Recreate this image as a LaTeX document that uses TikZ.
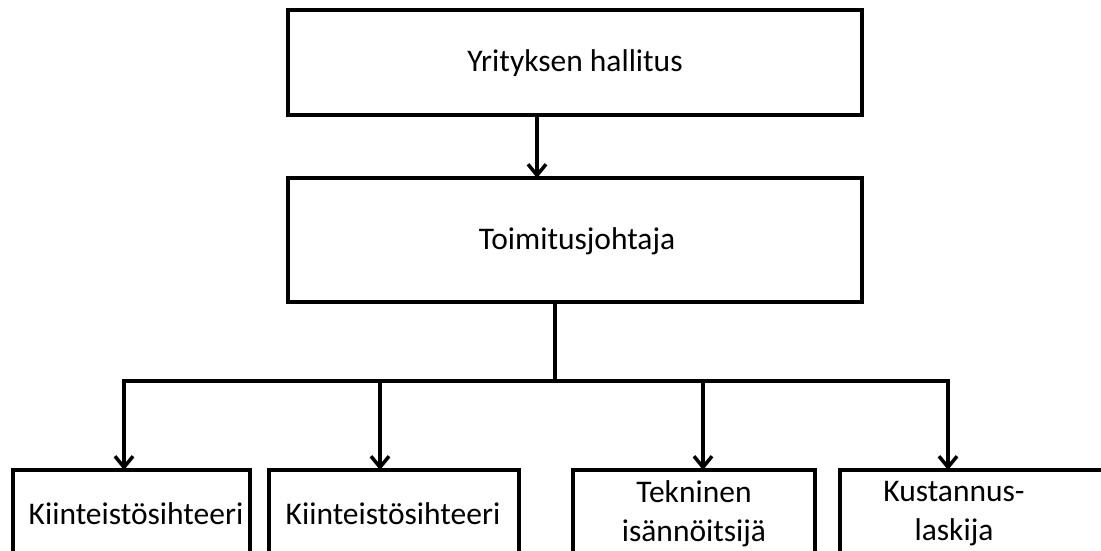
\documentclass[tikz,border=0pt]{standalone}
\usepackage{fontspec}
\setmainfont{Carlito}
\usetikzlibrary{arrows.meta}
\begin{document}
\begin{tikzpicture}[x=1pt,y=-1pt,
  box/.style={draw=black,line width=3.5pt,fill=white,rectangle,inner sep=0pt,outer sep=0pt},
  lbl/.style={font=\fontsize{31.5}{39}\selectfont,align=center,inner sep=0pt},
  ln/.style={line width=3.5pt,black},
  arr/.style={ln,-{Straight Barb[length=11pt,width=18pt,line width=3.5pt]}}]
\useasboundingbox (0,0) rectangle (1101,551);
\clip (0,0) rectangle (1101,551);
\fill[white] (0,0) rectangle (1101,551);
% boxes
\node[box,minimum width=574pt,minimum height=105pt] (top) at (575,62.5) {};
\node[lbl] (toptxt) at (575,63) {Yrityksen hallitus};
\node[box,minimum width=574pt,minimum height=124pt] (ceo) at (575,240) {};
\node[lbl] (ceotxt) at (577,241) {Toimitusjohtaja};
\node[box,minimum width=237pt,minimum height=120pt] (b1) at (131.5,530) {};
\node[box,minimum width=250pt,minimum height=120pt] (b2) at (394,530) {};
\node[box,minimum width=242pt,minimum height=120pt] (b3) at (694,530) {};
\node[box,minimum width=290pt,minimum height=120pt] (b4) at (985,530) {};
\node[lbl] (t1) at (136,514) {Kiinteistösihteeri};
\node[lbl] (t2) at (393,514) {Kiinteistösihteeri};
\node[lbl] (t3) at (694,514) {Tekninen\\isännöitsijä};
\node[lbl] (t4) at (954,514) {Kustannus-\\laskija};
% connector coordinates
\coordinate (a0) at (537,0);
\coordinate (j) at (555,381);
\coordinate (h1) at (124,381);
\coordinate (h2) at (380,381);
\coordinate (h3) at (703,381);
\coordinate (h4) at (948,381);
% connectors
\draw[arr] (top.south -| a0) -- (ceo.north -| a0);
\draw[ln] (ceo.south -| j) -- (j);
\draw[ln,line cap=rect] (h1) -- (h4);
\draw[arr] (h1) -- (b1.north -| h1);
\draw[arr] (h2) -- (b2.north -| h2);
\draw[arr] (h3) -- (b3.north -| h3);
\draw[arr] (h4) -- (b4.north -| h4);
\end{tikzpicture}
\end{document}
